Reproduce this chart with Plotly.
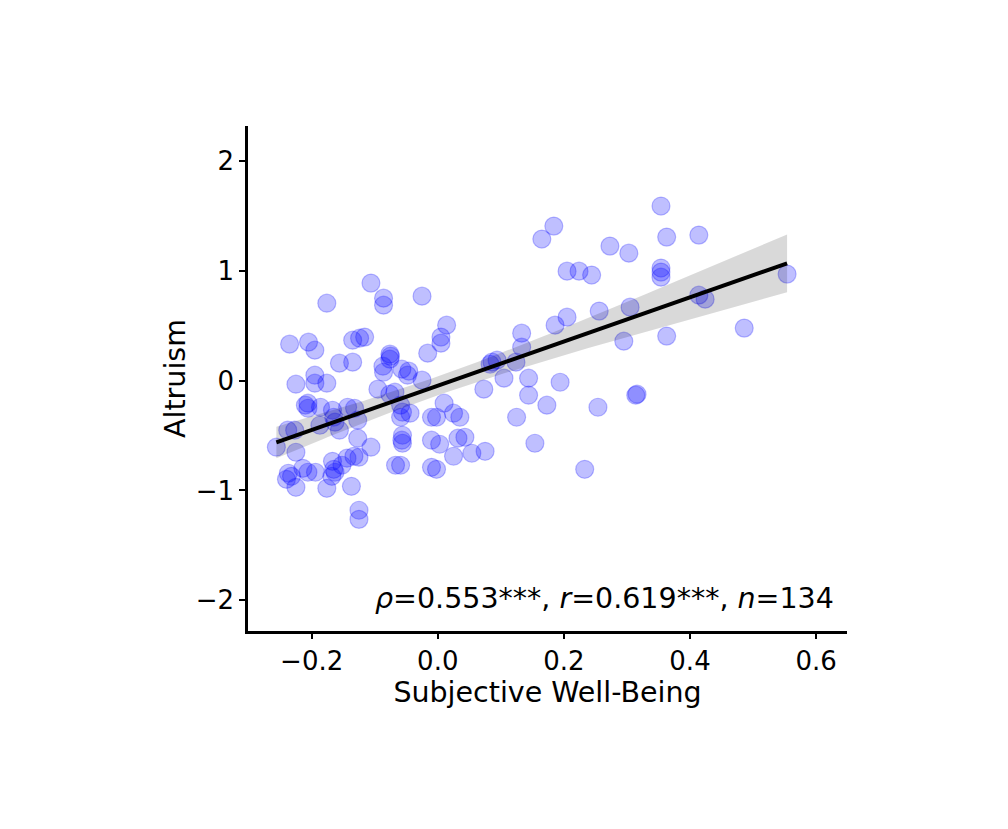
import numpy as np
import plotly.graph_objects as go

# Subjective Well-Being (x) and Altruism (y) per participant
swb = [
    -0.106, -0.176, -0.086, -0.086, -0.025, -0.235, -0.205, -0.195, -0.135, -0.124,
    -0.116, -0.156, -0.135, -0.076, -0.076, -0.087, -0.086, -0.057, -0.046, -0.048,
    -0.025, -0.225, -0.195, -0.195, -0.176, -0.095, -0.068, -0.076, -0.016, 0.005,
    0.005, 0.014, 0.133, 0.133, 0.086, 0.094, 0.124, 0.105, 0.144, 0.073,
    0.144, 0.194, 0.173, 0.254, 0.125, 0.010, 0.025, 0.035, -0.010, -0.002,
    0.154, 0.043, 0.032, 0.003, -0.010, 0.025, 0.054, 0.075, 0.233, -0.010,
    -0.002, 0.354, 0.184, 0.165, 0.273, 0.303, 0.363, 0.414, 0.205, 0.224,
    0.244, 0.354, 0.354, 0.354, 0.256, 0.305, 0.186, 0.205, 0.295, 0.363,
    0.314, 0.316, 0.554, 0.414, 0.424, 0.486, -0.206, -0.206, -0.186, -0.167,
    -0.165, -0.163, -0.143, -0.132, -0.127, -0.187, -0.156, -0.238, -0.227, -0.256,
    -0.225, -0.127, -0.106, -0.059, -0.056, -0.044, -0.059, -0.056, -0.056, -0.237,
    -0.240, -0.225, -0.214, -0.206, -0.194, -0.167, -0.165, -0.168, -0.152, -0.144,
    -0.133, -0.125, -0.176, -0.137, -0.125, -0.125, -0.067, -0.059, -0.075, -0.232,
    -0.163, -0.210, -0.057, 0.083,
]
altruism = [
    0.889, 0.706, 0.752, 0.688, 0.770, 0.333, 0.351, 0.278, 0.369, 0.387,
    0.397, 0.160, 0.169, 0.242, 0.196, 0.132, 0.077, 0.105, 0.087, 0.050,
    0.005, -0.032, 0.050, -0.023, -0.023, -0.077, -0.105, -0.123, 0.251, 0.397,
    0.342, 0.506, 0.433, 0.305, 0.169, 0.187, 0.169, 0.023, 0.023, -0.077,
    -0.132, -0.014, -0.223, -0.242, -0.333, -0.205, -0.296, -0.333, -0.333, -0.333,
    -0.570, -0.515, -0.524, -0.579, -0.542, -0.688, -0.661, -0.643, -0.807, -0.789,
    -0.807, 1.591, 1.408, 1.290, 1.226, 1.162, 1.308, 1.326, 0.998, 0.998,
    0.962, 1.026, 0.989, 0.943, 0.634, 0.670, 0.506, 0.579, 0.360, 0.406,
    -0.132, -0.123, 0.971, 0.779, 0.743, 0.479, -0.205, -0.251, -0.242, -0.269,
    -0.333, -0.378, -0.242, -0.251, -0.360, -0.406, -0.451, -0.451, -0.451, -0.606,
    -0.652, -0.524, -0.606, -0.223, -0.287, -0.296, -0.333, -0.497, -0.570, -0.843,
    -0.898, -0.971, -0.798, -0.834, -0.834, -0.734, -0.807, -0.871, -0.770, -0.706,
    -0.688, -0.697, -0.980, -0.962, -1.180, -1.263, -0.770, -0.770, 0.223, -0.871,
    -0.834, -0.223, -0.542, 0.150,
]

x_ticks = [-0.2, 0.0, 0.2, 0.4, 0.6]
x_tick_labels = ["\u22120.2", "0.0", "0.2", "0.4", "0.6"]
y_ticks = [-2, -1, 0, 1, 2]
y_tick_labels = ["\u22122", "\u22121", "0", "1", "2"]
stats_text = "<i>\u03c1</i>=0.553***, <i>r</i>=0.619***, <i>n</i>=134"

x = np.array(swb)
y = np.array(altruism)
n = len(x)
slope, intercept = np.polyfit(x, y, 1)
xs = np.linspace(x.min(), x.max(), 100)
ys = intercept + slope * xs
resid = y - (intercept + slope * x)
s = np.sqrt(np.sum(resid ** 2) / (n - 2))
sxx = np.sum((x - x.mean()) ** 2)
se = s * np.sqrt(1.0 / n + (xs - x.mean()) ** 2 / sxx)
t = 1.978
lo = ys - t * se
hi = ys + t * se

font = "DejaVu Sans, Liberation Sans, sans-serif"

fig = go.Figure()
fig.add_trace(go.Scatter(
    x=x, y=y, mode="markers",
    marker=dict(size=18, color="rgba(0,0,255,0.25)",
                line=dict(color="rgba(0,0,255,0.25)", width=1.2)),
    hoverinfo="skip", showlegend=False,
))
fig.add_trace(go.Scatter(
    x=np.concatenate([xs, xs[::-1]]), y=np.concatenate([hi, lo[::-1]]),
    fill="toself", fillcolor="rgba(0,0,0,0.15)", line=dict(width=0),
    mode="lines", hoverinfo="skip", showlegend=False,
))
fig.add_trace(go.Scatter(
    x=xs, y=ys, mode="lines", line=dict(color="black", width=4),
    hoverinfo="skip", showlegend=False,
))

fig.add_annotation(
    text=stats_text, xref="paper", yref="paper", x=0.982, y=0.065,
    xanchor="right", yanchor="middle", showarrow=False,
    font=dict(family=font, size=28.5, color="black"),
)

fig.update_layout(
    width=1008, height=829,
    paper_bgcolor="white", plot_bgcolor="white",
    margin=dict(l=240, r=169, t=118, b=206),
    font=dict(family=font, color="black"),
    xaxis=dict(
        range=[-0.301, 0.649], tickvals=x_ticks, ticktext=x_tick_labels,
        showline=True, linecolor="black", linewidth=2.5, mirror=False,
        ticks="outside", ticklen=5, tickwidth=1.5, tickcolor="black",
        showgrid=False, zeroline=False, tickfont=dict(size=26),
        title=dict(text="Subjective Well-Being", font=dict(size=28.5), standoff=4),
    ),
    yaxis=dict(
        range=[-2.28, 2.32], tickvals=y_ticks, ticktext=y_tick_labels,
        showline=True, linecolor="black", linewidth=2.5, mirror=False,
        ticks="outside", ticklen=6, tickwidth=1.5, tickcolor="black",
        showgrid=False, zeroline=False, tickfont=dict(size=26),
        title=dict(text="Altruism", font=dict(size=28.5), standoff=2),
    ),
)

fig.write_html("out.html")
